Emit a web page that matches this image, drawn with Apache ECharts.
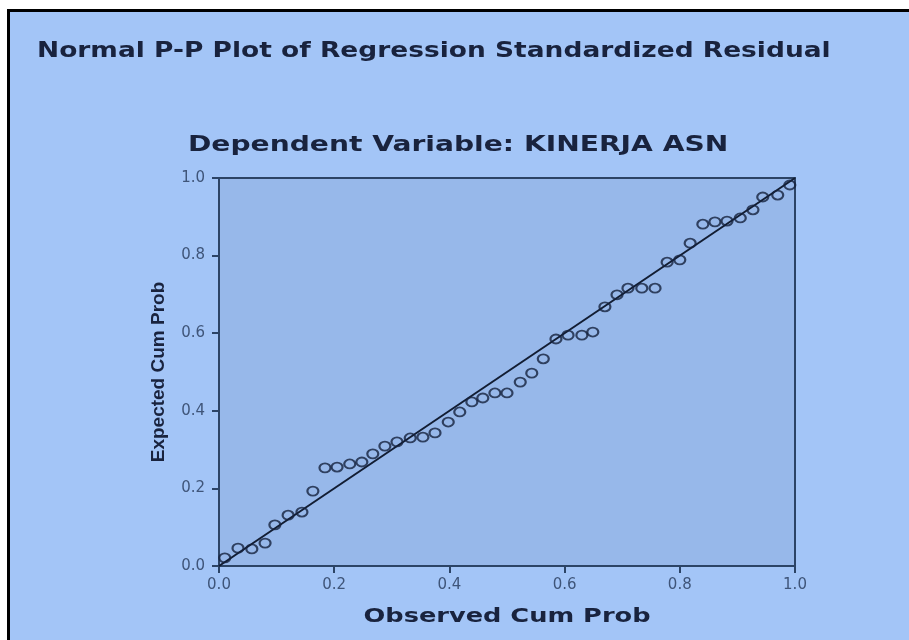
<!DOCTYPE html>
<html>
<head>
<meta charset="utf-8">
<script src="https://cdn.jsdelivr.net/npm/echarts@6/dist/echarts.min.js"></script>
<style>
html,body{margin:0;padding:0;background:#fff;}
#chart{width:909px;height:640px;}
</style>
</head>
<body>
<div id="chart"></div>
<script>
const mainTitle = 'Normal P-P Plot of Regression Standardized Residual';
const subTitle = 'Dependent Variable: KINERJA ASN';
const xAxisTitle = 'Observed Cum Prob';
const yAxisTitle = 'Expected Cum Prob';
const tickValues = [0, 0.2, 0.4, 0.6, 0.8, 1.0];

const observedCumProb = [
  0.010, 0.033, 0.057, 0.080, 0.097, 0.120, 0.144, 0.163, 0.184, 0.205,
  0.227, 0.248, 0.267, 0.288, 0.309, 0.332, 0.354, 0.375, 0.398, 0.418,
  0.439, 0.458, 0.479, 0.500, 0.523, 0.543, 0.563, 0.585, 0.606, 0.630,
  0.649, 0.670, 0.691, 0.710, 0.734, 0.757, 0.778, 0.800, 0.818, 0.840,
  0.861, 0.882, 0.905, 0.927, 0.944, 0.970, 0.991
];
const expectedCumProb = [
  0.021, 0.046, 0.044, 0.059, 0.106, 0.131, 0.139, 0.193, 0.253, 0.255,
  0.263, 0.268, 0.289, 0.309, 0.320, 0.330, 0.332, 0.343, 0.371, 0.397,
  0.423, 0.433, 0.446, 0.446, 0.474, 0.497, 0.534, 0.585, 0.595, 0.595,
  0.603, 0.668, 0.699, 0.716, 0.716, 0.716, 0.783, 0.789, 0.832, 0.881,
  0.887, 0.889, 0.897, 0.918, 0.951, 0.956, 0.982
];
const refLine = [[0, 0], [1, 1]];

const points = observedCumProb.map((x, i) => [x, expectedCumProb[i]]);
const axisColor = '#2c4466';
const labelColor = '#3f5579';
const textDark = '#19233e';

const chart = echarts.init(document.getElementById('chart'), null, {renderer: 'canvas'});
chart.setOption({
  backgroundColor: '#ffffff',
  animation: false,
  graphic: [{
    type: 'rect',
    z: -10,
    silent: true,
    shape: {x: 8.5, y: 10.5, width: 930, height: 660},
    style: {fill: '#a3c5f7', stroke: '#000000', lineWidth: 3}
  }, {
    type: 'text', x: 37, y: 52, scaleX: 1.26, silent: true,
    style: {text: mainTitle, fontFamily: 'DejaVu Sans', fontWeight: 'bold', fontSize: 21,
      fill: textDark, align: 'left', verticalAlign: 'middle'}
  }, {
    type: 'text', x: 188, y: 146, scaleX: 1.34, silent: true,
    style: {text: subTitle, fontFamily: 'DejaVu Sans', fontWeight: 'bold', fontSize: 21,
      fill: textDark, align: 'left', verticalAlign: 'middle'}
  }, {
    type: 'text', x: 507, y: 617, scaleX: 1.35, silent: true,
    style: {text: xAxisTitle, fontFamily: 'DejaVu Sans', fontWeight: 'bold', fontSize: 19,
      fill: textDark, align: 'center', verticalAlign: 'middle'}
  }],
  grid: {
    left: 219, top: 178, right: 114, bottom: 74,
    show: true, backgroundColor: '#97b8ea', borderColor: axisColor, borderWidth: 2
  },
  xAxis: {
    type: 'value', min: 0, max: 1, interval: 0.2,
    axisLine: {show: true, lineStyle: {color: axisColor, width: 2}},
    axisTick: {show: true, inside: false, length: 7, lineStyle: {color: axisColor, width: 2}},
    axisLabel: {margin: 12, fontFamily: 'DejaVu Sans', fontSize: 15, color: labelColor,
      formatter: v => v.toFixed(1)},
    splitLine: {show: false}
  },
  yAxis: {
    type: 'value', min: 0, max: 1, interval: 0.2,
    name: yAxisTitle, nameLocation: 'middle', nameGap: 51,
    nameTextStyle: {fontFamily: 'Liberation Sans', fontWeight: 'bold', fontSize: 19, color: textDark},
    axisLine: {show: true, lineStyle: {color: axisColor, width: 2}},
    axisTick: {show: true, inside: false, length: 7, lineStyle: {color: axisColor, width: 2}},
    axisLabel: {margin: 14, fontFamily: 'DejaVu Sans', fontSize: 15, color: labelColor,
      formatter: v => v.toFixed(1)},
    splitLine: {show: false}
  },
  series: [{
    type: 'line',
    data: refLine,
    symbol: 'none',
    lineStyle: {color: '#121d33', width: 2},
    z: 3
  }, {
    type: 'scatter',
    data: points,
    symbol: 'circle',
    symbolSize: [11, 9],
    itemStyle: {color: 'rgba(0,0,0,0)', borderColor: '#15223d', borderWidth: 2},
    z: 4
  }]
});
</script>
</body>
</html>
